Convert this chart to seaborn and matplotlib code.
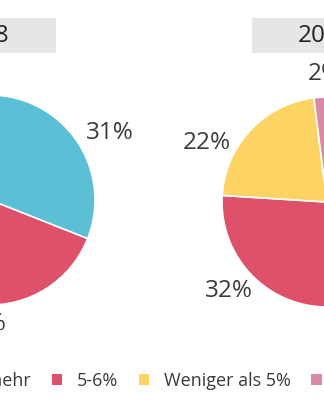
import matplotlib
matplotlib.use("Agg")
import matplotlib.pyplot as plt
import seaborn as sns
import numpy as np
from matplotlib.patches import Rectangle, Patch

# ---------------- data ----------------
categories = ["7% und mehr", "5-6%", "Weniger als 5%", "Keine Angabe"]
years = ["2018", "2019"]
values_2018 = [31, 40, 26, 3]
values_2019 = [44, 32, 22, 2]
colors = ["#5BC0D5", "#DF506B", "#FDD463", "#DA8AA2"]

# ---------------- style ----------------
sns.set_theme(style="white")
plt.rcParams["font.family"] = ["Open Sans", "DejaVu Sans"]
TXT = "#3a3a3a"

W, H = 324, 400
fig = plt.figure(figsize=(W / 100, H / 100), dpi=100)
fig.patch.set_facecolor("white")

R = 105          # pie radius in px
LIM = 1.35
centers = [(-10, 200), (327, 202)]       # pie centres (px, image coords)
title_cx = [-18, 326]
label_r = [[1.31, 1.18, 1.25, 1.25], [1.25, 1.26, 1.28, 1.22]]
label_nudge = [[-5, 0, 0, 0], [0, -12, 17, -2.6]]

for i, vals in enumerate([values_2018, values_2019]):
    cx, cy = centers[i]
    ax = fig.add_axes([(cx - R * LIM) / W, (H - cy - R * LIM) / H,
                       2 * R * LIM / W, 2 * R * LIM / H])
    wedges, _ = ax.pie(vals, colors=colors, startangle=90, counterclock=False,
                       radius=1.0,
                       wedgeprops=dict(edgecolor="white", linewidth=1.2))
    ax.set_xlim(-LIM, LIM)
    ax.set_ylim(-LIM, LIM)
    ax.set_aspect("auto")
    ax.axis("off")
    for j, (w, v) in enumerate(zip(wedges, vals)):
        th = np.deg2rad((w.theta1 + w.theta2) / 2 + label_nudge[i][j])
        r = label_r[i][j]
        ax.text(r * np.cos(th), r * np.sin(th), f"{v}%", ha="center",
                va="center", fontsize=17.5, color=TXT, clip_on=False)

    # title box
    tx = title_cx[i]
    fig.patches.append(Rectangle(((tx - 74) / W, (H - 53) / H), 148 / W, 35 / H,
                                 transform=fig.transFigure, facecolor="#E6E6E8",
                                 edgecolor="none", zorder=0))
    fig.text(tx / W, (H - 35.5) / H, years[i], ha="center", va="center",
             fontsize=17.5, color="#222222")

handles = [Patch(facecolor=c, edgecolor="none") for c in colors]
leg = fig.legend(handles, categories, loc="center", bbox_to_anchor=(0.5, (H - 381) / H),
                 ncol=4, frameon=False, fontsize=13, handlelength=0.58,
                 handleheight=0.58, handletextpad=0.8, columnspacing=1.15,
                 labelcolor=TXT, borderpad=0)

# shift legend so the second marker starts at x = 52 px
fig.canvas.draw()
bb = leg.legend_handles[1].get_window_extent()
dx = 52 - bb.x0
leg.set_bbox_to_anchor((0.5 + dx / W, (H - 381) / H), transform=fig.transFigure)

fig.savefig("out.png", dpi=100)
